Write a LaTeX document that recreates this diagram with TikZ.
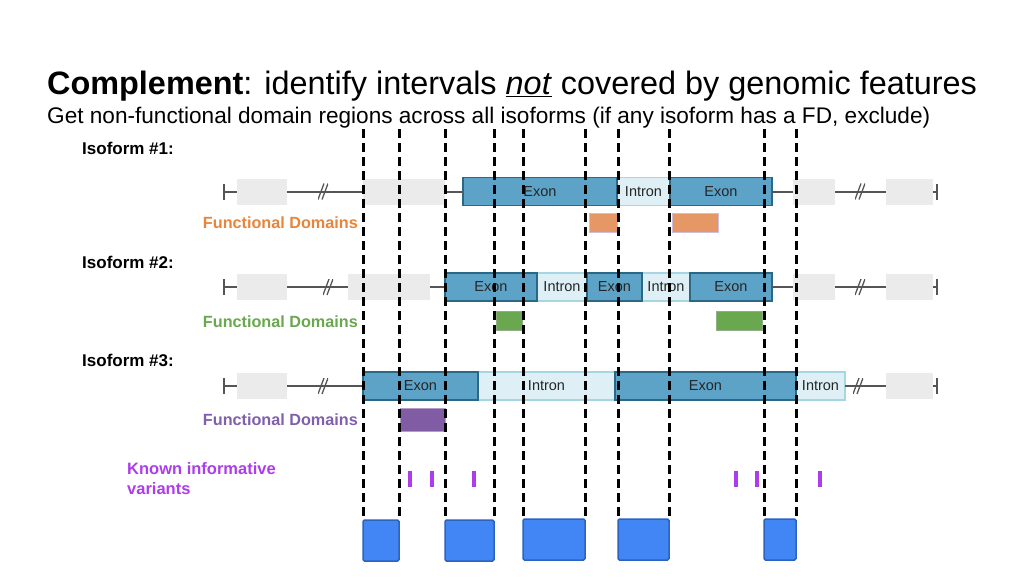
\documentclass[tikz,border=0pt]{standalone}
\usepackage{fontspec}
\setmainfont{Liberation Sans}
\usetikzlibrary{arrows.meta}

\definecolor{spinegray}{RGB}{85,85,85}
\definecolor{boxgray}{RGB}{235,235,235}
\definecolor{exonfill}{RGB}{92,163,199}
\definecolor{exonline}{RGB}{42,104,134}
\definecolor{intronfill}{RGB}{222,240,246}
\definecolor{intronline}{RGB}{165,214,226}
\definecolor{fdorange}{RGB}{229,152,102}
\definecolor{fdgreen}{RGB}{106,168,79}
\definecolor{fdpurple}{RGB}{128,92,164}
\definecolor{txtorange}{RGB}{232,132,60}
\definecolor{txtgreen}{RGB}{106,168,79}
\definecolor{txtpurple}{RGB}{128,96,172}
\definecolor{varcolor}{RGB}{172,60,236}
\definecolor{keepfill}{RGB}{66,133,244}
\definecolor{keepline}{RGB}{43,99,190}

\tikzset{
  spine/.style={line width=2pt, draw=spinegray},
  gapbox/.style={fill=boxgray, minimum height=26pt, inner sep=0pt, outer sep=0pt, anchor=west},
  exon/.style={draw=exonline, fill=exonfill, line width=1.2pt, minimum height=28pt,
    inner sep=0pt, outer sep=0pt, anchor=west, text=black!85, font=\fontsize{14.5}{15}\selectfont},
  intron/.style={exon, draw=intronline, fill=intronfill},
  fd/.style={minimum height=19pt, inner sep=0pt, outer sep=0pt, anchor=west, line width=0.8pt},
  rowlabel/.style={anchor=base west, inner sep=0pt, font=\bfseries\fontsize{17}{18}\selectfont},
  fdlabel/.style={anchor=base east, inner sep=0pt, font=\bfseries\fontsize{16.2}{17}\selectfont},
  cut/.style={line width=3pt, dash pattern=on 9pt off 5pt},
  keep/.style={draw=keepline, fill=keepfill, line width=1.5pt, rounded corners=1.5pt,
    minimum height=41pt, inner sep=0pt, outer sep=0pt, anchor=north west},
  variant/.style={fill=varcolor, minimum width=4pt, minimum height=16pt, inner sep=0pt},
  slash/.style={inner sep=0pt, minimum width=10pt, minimum height=16pt, path picture={
    \draw[line width=1.3pt, spinegray]
      ([xshift=-5pt,yshift=-8pt]path picture bounding box.center) -- ([xshift=1pt,yshift=8pt]path picture bounding box.center)
      ([xshift=-1pt,yshift=-8pt]path picture bounding box.center) -- ([xshift=5pt,yshift=8pt]path picture bounding box.center);}}
}

\begin{document}
\begin{tikzpicture}[x=1pt, y=-1pt]
  \useasboundingbox[fill=white] (0,0) rectangle (1024,576);

  % heading
  \node[anchor=base west, inner sep=0pt, font=\fontsize{32.4}{38}\selectfont] (title) at (47,94)
    {\textbf{Complement}: identify intervals \underline{\textit{not}} covered by genomic features};
  \node[anchor=base west, inner sep=0pt, font=\fontsize{22.6}{26}\selectfont] (subtitle) at (47,123)
    {Get non-functional domain regions across all isoforms (if any isoform has a FD, exclude)};

  % isoform 1
  \node[rowlabel] (iso1) at (82,154) {Isoform \#1:};
  \coordinate (s1) at (223,191.5);
  \node[gapbox, minimum width=50pt] (g1a) at (237,191.5) {};
  \node[gapbox, minimum width=82pt] (g1b) at (363,191.5) {};
  \node[intron, minimum width=53pt] (i1a) at (617,191.5) {Intron};
  \node[exon, minimum width=154pt] (e1a) at (463,191.5) {Exon};
  \node[exon, minimum width=102pt] (e1b) at (670,191.5) {Exon};
  \node[gapbox, minimum width=42pt] (g1c) at (793,191.5) {};
  \node[gapbox, minimum width=47pt] (g1d) at (886,191.5) {};
  \coordinate (f1) at (938,191.5);
  \draw[spine, {Bar[width=16pt]}-] (s1) -- (g1a.west);
  \draw[spine] (g1a) -- (g1b);
  \draw[spine] (g1b) -- (e1a);
  \draw[spine] (e1b) -- (g1c);
  \draw[spine] (g1c) -- (g1d);
  \draw[spine, -{Bar[width=16pt]}] (g1d.east) -- (f1);
  \node[slash] (k1a) at (323,191.5) {};
  \node[slash] (k1b) at (860,191.5) {};
  \node[fdlabel, text=txtorange] (fdl1) at (358,228) {Functional Domains};
  \node[fd, fill=fdorange, draw=fdorange!60!blue!40, minimum width=28pt] (fd1a) at (589,222.5) {};
  \node[fd, fill=fdorange, draw=fdorange!60!blue!40, minimum width=46pt] (fd1b) at (672,222.5) {};

  % isoform 2
  \node[rowlabel] (iso2) at (82,268) {Isoform \#2:};
  \coordinate (s2) at (223,287);
  \node[gapbox, minimum width=50pt] (g2a) at (237,287) {};
  \node[gapbox, minimum width=82pt] (g2b) at (348,287) {};
  \node[intron, minimum width=50pt] (i2a) at (537,287) {Intron};
  \node[intron, minimum width=48pt] (i2b) at (642,287) {Intron};
  \node[exon, minimum width=92pt] (e2a) at (445,287) {Exon};
  \node[exon, minimum width=55pt] (e2b) at (587,287) {Exon};
  \node[exon, minimum width=82pt] (e2c) at (690,287) {Exon};
  \node[gapbox, minimum width=42pt] (g2c) at (793,287) {};
  \node[gapbox, minimum width=47pt] (g2d) at (886,287) {};
  \coordinate (f2) at (938,287);
  \draw[spine, {Bar[width=16pt]}-] (s2) -- (g2a.west);
  \draw[spine] (g2a) -- (g2b);
  \draw[spine] (g2b) -- (e2a);
  \draw[spine] (e2c) -- (g2c);
  \draw[spine] (g2c) -- (g2d);
  \draw[spine, -{Bar[width=16pt]}] (g2d.east) -- (f2);
  \node[slash] (k2a) at (328,287) {};
  \node[slash] (k2b) at (860,287) {};
  \node[fdlabel, text=txtgreen] (fdl2) at (358,327) {Functional Domains};
  \node[fd, fill=fdgreen, draw=fdgreen!70!black!60, minimum width=26pt] (fd2a) at (496,321) {};
  \node[fd, fill=fdgreen, draw=fdgreen!70!black!60, minimum width=46pt] (fd2b) at (716,321) {};

  % isoform 3
  \node[rowlabel] (iso3) at (82,366) {Isoform \#3:};
  \coordinate (s3) at (223,386);
  \node[gapbox, minimum width=50pt] (g3a) at (237,386) {};
  \node[intron, minimum width=137pt] (i3a) at (478,386) {Intron};
  \node[intron, minimum width=49pt] (i3b) at (796,386) {Intron};
  \node[exon, minimum width=115pt] (e3a) at (363,386) {Exon};
  \node[exon, minimum width=181pt] (e3b) at (615,386) {Exon};
  \node[gapbox, minimum width=47pt] (g3b) at (886,386) {};
  \coordinate (f3) at (938,386);
  \draw[spine, {Bar[width=16pt]}-] (s3) -- (g3a.west);
  \draw[spine] (g3a) -- (e3a);
  \draw[spine] (i3b) -- (g3b);
  \draw[spine, -{Bar[width=16pt]}] (g3b.east) -- (f3);
  \node[slash] (k3a) at (323,386) {};
  \node[slash] (k3b) at (858,386) {};
  \node[fdlabel, text=txtpurple] (fdl3) at (358,425) {Functional Domains};
  \node[fd, fill=fdpurple, draw=fdpurple!60, minimum width=45pt, minimum height=23pt] (fd3a) at (400,419.5) {};

  % variants
  \node[anchor=base west, inner sep=0pt, align=left, text=varcolor, font=\bfseries\fontsize{16.5}{19.5}\selectfont]
    (known) at (127,494) {Known informative\\variants};
  \foreach \vx [count=\i] in {410,432,474,736,757,820}
    \node[variant] (var\i) at (\vx,479) {};

  % regions kept
  \node[keep, minimum width=36pt] (r1) at (363,520) {};
  \node[keep, minimum width=49pt] (r2) at (445,520) {};
  \node[keep, minimum width=62pt] (r3) at (523,519) {};
  \node[keep, minimum width=51pt] (r4) at (618,519) {};
  \node[keep, minimum width=32pt] (r5) at (764,519) {};

  % cut lines
  \foreach \cx [count=\i] in {363,399,445,494,523,585,618,669,764,796}
    \coordinate (t\i) at (\cx,129);
  \draw[cut] (t1) -- (r1.north west);
  \draw[cut] (t2) -- (r1.north east);
  \draw[cut] (t3) -- (r2.north west);
  \draw[cut] (t4) -- (r2.north east);
  \draw[cut] (t5) -- (r3.north west);
  \draw[cut] (t6) -- (r3.north east);
  \draw[cut] (t7) -- (r4.north west);
  \draw[cut] (t8) -- (r4.north east);
  \draw[cut] (t9) -- (r5.north west);
  \draw[cut] (t10) -- (r5.north east);
\end{tikzpicture}
\end{document}
